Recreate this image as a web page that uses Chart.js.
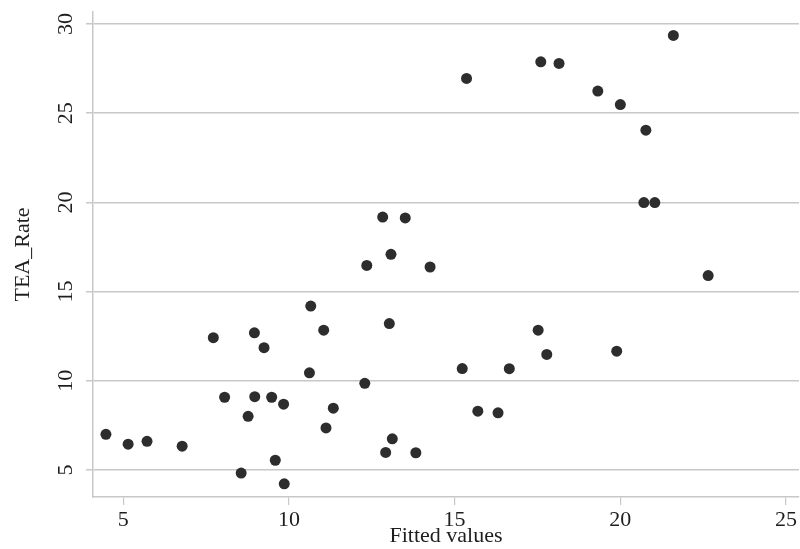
<!DOCTYPE html>
<html>
<head>
<meta charset="utf-8">
<script src="https://cdn.jsdelivr.net/npm/chart.js@4.4.1/dist/chart.umd.min.js"></script>
<style>
  html, body { margin: 0; padding: 0; background: #ffffff; }
  #wrap { width: 800px; height: 549px; }
</style>
</head>
<body>
<div id="wrap"><canvas id="c" width="800" height="549"></canvas></div>
<script>
// Data (Fitted values vs TEA_Rate)
const fittedValues = [
  4.48, 5.15, 5.72, 6.78, 7.72, 8.06, 8.56, 8.77, 8.96, 8.97,
  9.25, 9.48, 9.59, 9.84, 9.86, 10.62, 10.66, 11.05, 11.12, 11.34,
  12.29, 12.35, 12.83, 13.03, 13.08, 13.12, 12.92, 13.51, 13.83, 14.26,
  15.23, 15.36, 15.70, 16.31, 16.65, 17.52, 17.60, 17.78, 18.15, 19.32,
  19.89, 20.00, 20.71, 20.77, 21.04, 21.60, 22.65
];
const teaRate = [
  7.00, 6.45, 6.61, 6.34, 12.42, 9.08, 4.83, 8.01, 12.69, 9.11,
  11.86, 9.08, 5.55, 8.69, 4.23, 10.45, 14.19, 12.84, 7.36, 8.47,
  9.86, 16.47, 19.18, 13.21, 17.09, 6.75, 5.99, 19.13, 5.97, 16.38,
  10.69, 26.95, 8.30, 8.21, 10.68, 12.84, 27.88, 11.48, 27.79, 26.24,
  11.66, 25.48, 19.99, 24.05, 19.99, 29.36, 15.90
];
const xTickValues = [5, 10, 15, 20, 25];
const yTickValues = [5, 10, 15, 20, 25, 30];
const xTitle = 'Fitted values';
const yTitle = 'TEA_Rate';

const points = fittedValues.map((x, i) => ({ x: x, y: teaRate[i] }));
const FONT = "'Liberation Serif', 'Times New Roman', serif";
const GRID = '#c8c8c8';
const TEXT = '#1e1e1e';

new Chart(document.getElementById('c'), {
  type: 'scatter',
  data: {
    datasets: [{
      label: yTitle,
      data: points,
      pointRadius: 5.5,
      pointHoverRadius: 5.5,
      pointBackgroundColor: '#2d2d2d',
      pointBorderWidth: 0,
      borderWidth: 0
    }]
  },
  options: {
    responsive: false,
    animation: false,
    events: [],
    layout: { autoPadding: false, padding: { left: 0, right: 1, top: 12, bottom: 0 } },
    plugins: { legend: { display: false }, tooltip: { enabled: false } },
    scales: {
      x: {
        type: 'linear',
        min: 4.09,
        max: 25.39,
        afterBuildTicks: s => { s.ticks = xTickValues.map(v => ({ value: v })); },
        afterFit: s => { s.height = 52; s.paddingLeft = 0; s.paddingRight = 0; },
        border: { display: true, color: GRID, width: 1.5 },
        grid: { display: true, drawOnChartArea: false, drawTicks: true, tickLength: 8, color: GRID, lineWidth: 1.2 },
        ticks: { color: TEXT, font: { family: FONT, size: 22 }, padding: 2, maxRotation: 0, minRotation: 0 },
        title: { display: true, text: xTitle, color: TEXT, font: { family: FONT, size: 22 }, padding: { top: 0, bottom: 0 } }
      },
      y: {
        type: 'linear',
        min: 3.49,
        max: 30.67,
        afterBuildTicks: s => { s.ticks = yTickValues.map(v => ({ value: v })); },
        afterFit: s => { s.width = 93; s.paddingTop = 0; s.paddingBottom = 0; },
        border: { display: true, color: GRID, width: 1.5 },
        grid: { display: true, drawOnChartArea: true, drawTicks: true, tickLength: 7, color: GRID, lineWidth: 1.5 },
        ticks: { color: TEXT, font: { family: FONT, size: 22 }, padding: 9, minRotation: 90, maxRotation: 90, crossAlign: 'center' },
        title: { display: true, text: yTitle, color: TEXT, font: { family: FONT, size: 22 }, padding: { top: 10, bottom: 0 } }
      }
    }
  }
});
</script>
</body>
</html>
